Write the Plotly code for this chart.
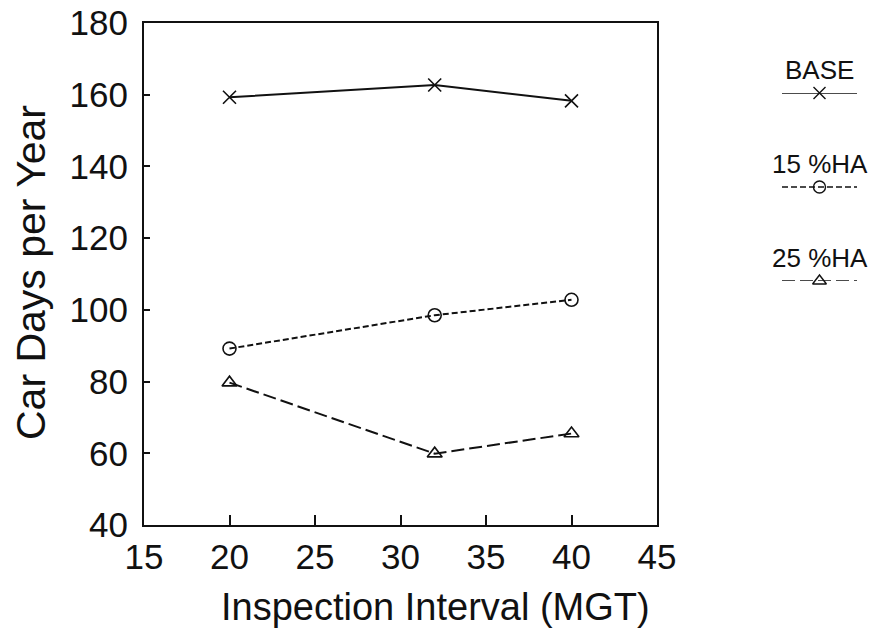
import plotly.graph_objects as go

# Inspection interval (MGT) and car days per year for each scenario
interval = [20, 32, 40]
base = [159.3, 162.7, 158.3]
ha15 = [89.2, 98.5, 102.8]
ha25 = [79.7, 59.9, 65.5]

series_names = ["BASE", "15 %HA", "25 %HA"]
series_values = [base, ha15, ha25]
series_symbols = ["x-thin-open", "circle-open", "triangle-up-open"]
series_dash = ["solid", "6px,3px", "13px,5px"]

x_ticks = [15, 20, 25, 30, 35, 40, 45]
y_ticks = [40, 60, 80, 100, 120, 140, 160, 180]

x_title = "Inspection Interval (MGT)"
y_title = "Car Days per Year"

FONT = "Liberation Sans, Arial, Helvetica, sans-serif"
INK = "#111111"

W, H = 872, 635
ML, MR, MT, MB = 144, 10, 23, 110
plot_w = W - ML - MR
plot_h = H - MT - MB
main_right = 657  # right edge of the framed plot, in pixels

fig = go.Figure()

for name, vals, sym, dash in zip(series_names, series_values, series_symbols, series_dash):
    fig.add_trace(go.Scatter(
        x=interval, y=vals, name=name, mode="lines+markers",
        line=dict(color=INK, width=2, dash=dash),
        marker=dict(symbol=sym, size=13, color=INK, line=dict(width=1.6, color=INK)),
        showlegend=False, cliponaxis=False,
    ))

# Key to the right of the plot: a short sample line per series with its marker
key_rows = [3, 2, 1]
for name, row, sym, dash in zip(series_names, key_rows, series_symbols, series_dash):
    fig.add_trace(go.Scatter(
        x=[0, 1], y=[row, row], mode="lines", xaxis="x2", yaxis="y2",
        line=dict(color=INK, width=1.3, dash=dash), showlegend=False,
        cliponaxis=False,
    ))
    fig.add_trace(go.Scatter(
        x=[0.5], y=[row], mode="markers", xaxis="x2", yaxis="y2",
        marker=dict(symbol=sym, size=12, color=INK, line=dict(width=1.4, color=INK)),
        showlegend=False, cliponaxis=False,
    ))
    fig.add_annotation(
        x=0.5, y=row, xref="x2", yref="y2", text=name, showarrow=False,
        yshift=23, font=dict(family=FONT, size=26, color=INK),
    )

# Axis titles, placed in paper coordinates
fig.add_annotation(
    x=(435 - ML) / plot_w, y=-(607 - (H - MB)) / plot_h, xref="paper", yref="paper",
    text=x_title, showarrow=False, xanchor="center", yanchor="middle",
    font=dict(family=FONT, size=38, color=INK),
)
fig.add_annotation(
    x=-(ML - 31) / plot_w, y=(H - MB - 273) / plot_h, xref="paper", yref="paper",
    text=y_title, showarrow=False, xanchor="center", yanchor="middle", textangle=-90,
    font=dict(family=FONT, size=41, color=INK),
)

fig.update_layout(
    width=W, height=H,
    margin=dict(l=ML, r=MR, t=MT, b=MB, autoexpand=False),
    paper_bgcolor="white", plot_bgcolor="white",
    font=dict(family=FONT, color=INK),
    xaxis=dict(
        domain=[0, (main_right - ML) / plot_w], automargin=False,
        range=[15, 45], tickvals=x_ticks, ticks="inside", ticklen=10,
        tickwidth=1.5, tickcolor=INK, showline=True, linewidth=2, linecolor=INK,
        mirror=True, showgrid=False, zeroline=False,
        tickfont=dict(size=35, family=FONT, color=INK), ticklabelstandoff=0,
    ),
    yaxis=dict(
        range=[40, 180], tickvals=y_ticks, ticks="inside", ticklen=6, automargin=False,
        tickwidth=1.5, tickcolor=INK, showline=True, linewidth=2, linecolor=INK,
        mirror=True, showgrid=False, zeroline=False,
        tickfont=dict(size=35, family=FONT, color=INK), ticklabelstandoff=7,
    ),
    xaxis2=dict(domain=[(782 - ML) / plot_w, (857 - ML) / plot_w], range=[0, 1],
                visible=False, anchor="y2"),
    yaxis2=dict(domain=[(H - MB - 281) / plot_h, (H - MB - 93) / plot_h],
                range=[1, 3], visible=False, anchor="x2"),
)

fig.write_html("out.html")
